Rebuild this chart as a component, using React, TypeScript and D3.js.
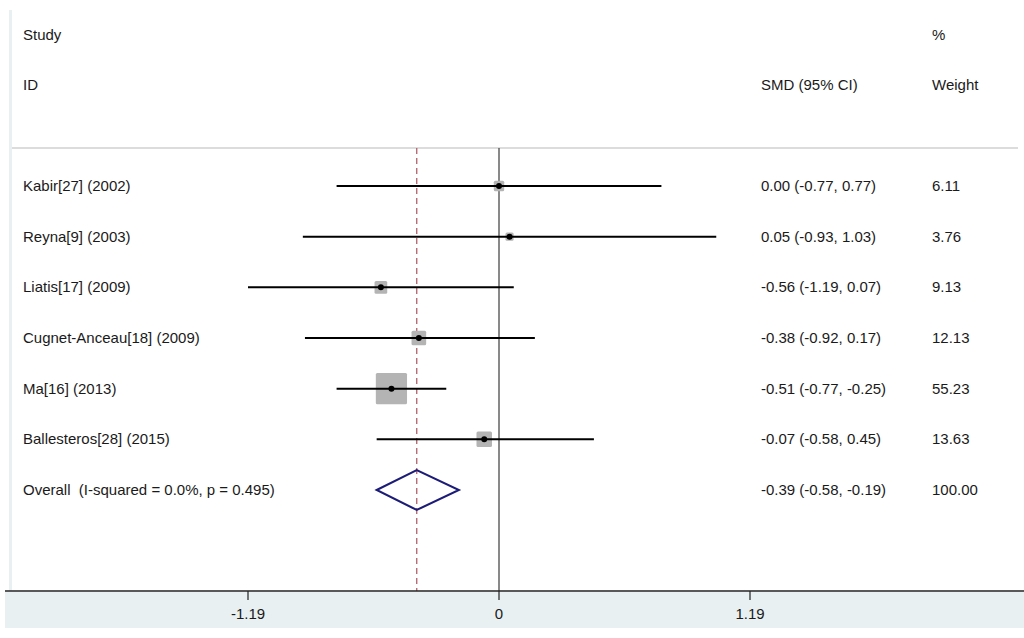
import React from "react";
import * as d3 from "d3";

const studies = [
  "Kabir[27] (2002)",
  "Reyna[9] (2003)",
  "Liatis[17] (2009)",
  "Cugnet-Anceau[18] (2009)",
  "Ma[16] (2013)",
  "Ballesteros[28] (2015)",
];
const smd = [0.0, 0.05, -0.56, -0.38, -0.51, -0.07];
const lower = [-0.77, -0.93, -1.19, -0.92, -0.77, -0.58];
const upper = [0.77, 1.03, 0.07, 0.17, -0.25, 0.45];
const weights = ["6.11", "3.76", "9.13", "12.13", "55.23", "13.63"];
const overallLabel = "Overall\u00a0\u00a0(I-squared = 0.0%, p = 0.495)";
const overall = { est: -0.39, lo: -0.58, hi: -0.19, weight: "100.00" };
const tickValues = [-1.19, 0, 1.19];
const tickLabels = ["-1.19", "0", "1.19"];

const fmt = (v: number) => (v === 0 ? "0.00" : v.toFixed(2));

export default function App() {
  const W = 1024;
  const H = 638;
  const x = d3.scaleLinear().domain([-1.19, 1.19]).range([248, 750]);
  const rowY = d3.scaleLinear().domain([0, 6]).range([186, 490]);
  const font = "'Liberation Sans', Arial, sans-serif";
  const textColor = "#1a1a1a";
  const fs = 15;
  const topY = 148;
  const axisY = 591;
  const diamondPath =
    d3.line<[number, number]>()([
      [x(overall.lo), rowY(6)],
      [x(overall.est), rowY(6) - 20],
      [x(overall.hi), rowY(6)],
      [x(overall.est), rowY(6) + 20],
    ]) + "Z";

  return (
    <svg
      width={W}
      height={H}
      style={{ position: "absolute", left: 0, top: 0, background: "#fff" }}
      fontFamily={font}
    >
      {/* frame */}
      <rect x={9} y={10} width={3} height={581} fill="#e8f0f2" />
      <rect x={5} y={592} width={1019} height={36} fill="#e8f0f2" />
      <line x1={12} x2={1018} y1={topY} y2={topY} stroke="#d0d0d0" strokeWidth={1.5} />

      {/* headers */}
      <g fontSize={fs} fill={textColor}>
        <text x={23} y={40}>Study</text>
        <text x={23} y={90}>ID</text>
        <text x={761} y={90}>SMD (95% CI)</text>
        <text x={932} y={40}>%</text>
        <text x={932} y={90}>Weight</text>
      </g>

      {/* reference lines */}
      <line x1={x(0)} x2={x(0)} y1={topY} y2={axisY} stroke="#4a4a4a" strokeWidth={1.3} />
      <line
        x1={x(overall.est)}
        x2={x(overall.est)}
        y1={topY}
        y2={axisY}
        stroke="#b0606a"
        strokeWidth={1.3}
        strokeDasharray="6,4"
      />

      {/* studies */}
      {studies.map((s, i) => {
        const y = rowY(i);
        const side = 4.2 * Math.sqrt(+weights[i]);
        return (
          <g key={s}>
            <rect
              x={x(smd[i]) - side / 2}
              y={y - side / 2}
              width={side}
              height={side}
              rx={1.5}
              fill="#b4b4b4"
            />
            <line x1={x(lower[i])} x2={x(upper[i])} y1={y} y2={y} stroke="#000" strokeWidth={2} />
            <circle cx={x(smd[i])} cy={y} r={3} fill="#000" />
            <text x={23} y={y + 5} fontSize={fs} fill={textColor}>{s}</text>
            <text x={761} y={y + 5} fontSize={fs} fill={textColor}>
              {`${fmt(smd[i])} (${fmt(lower[i])}, ${fmt(upper[i])})`}
            </text>
            <text x={932} y={y + 5} fontSize={fs} fill={textColor}>{weights[i]}</text>
          </g>
        );
      })}

      {/* overall */}
      <path d={diamondPath} fill="none" stroke="#1c1c78" strokeWidth={2} />
      <text x={23} y={rowY(6) + 5} fontSize={fs} fill={textColor}>{overallLabel}</text>
      <text x={761} y={rowY(6) + 5} fontSize={fs} fill={textColor}>
        {`${fmt(overall.est)} (${fmt(overall.lo)}, ${fmt(overall.hi)})`}
      </text>
      <text x={932} y={rowY(6) + 5} fontSize={fs} fill={textColor}>{overall.weight}</text>

      {/* axis */}
      <line x1={5} x2={1024} y1={axisY} y2={axisY} stroke="#222" strokeWidth={1.5} />
      {tickValues.map((t, i) => (
        <g key={t}>
          <line x1={x(t)} x2={x(t)} y1={axisY} y2={axisY + 9} stroke="#222" strokeWidth={1.2} />
          <text x={x(t)} y={axisY + 28} fontSize={fs} fill={textColor} textAnchor="middle">
            {tickLabels[i]}
          </text>
        </g>
      ))}
    </svg>
  );
}
